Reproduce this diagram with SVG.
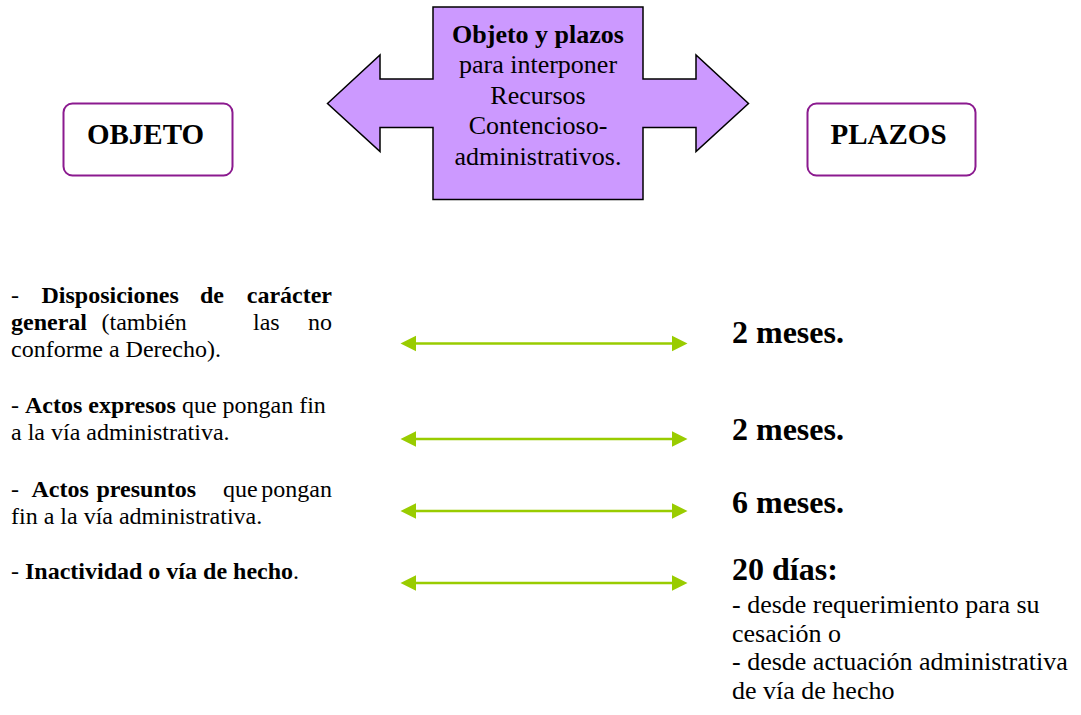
<svg xmlns="http://www.w3.org/2000/svg" width="1081" height="715" viewBox="0 0 1081 715">
<style>
text{font-family:"Liberation Serif","Times New Roman",serif;fill:#000}
.b{font-weight:bold}
.hdr{font-size:29px;font-weight:bold;text-anchor:middle}
.ctr{font-size:26px;text-anchor:middle}
.lt{font-size:24px}
.big{font-size:32px;font-weight:bold}
.sub{font-size:26px}
.box{fill:#fff;stroke:#8B1A8F;stroke-width:2}
.conn line{stroke:#99CC00;stroke-width:2.5}
.conn polygon{fill:#99CC00}
</style>
<rect width="1081" height="715" fill="#fff"/>
<g id="center-arrow">
<polygon points="327.5,103.5 380,55 380,79 433,79 433,7 643,7 643,79 696,79 696,55 748.5,103.5 696,151.5 696,127.5 643,127.5 643,199.5 433,199.5 433,127.5 380,127.5 380,151.5" fill="#CC99FF" stroke="#000" stroke-width="1.5"/>
<text class="ctr b" x="538" y="42.5">Objeto y plazos</text>
<text class="ctr" x="538" y="73">para interponer</text>
<text class="ctr" x="538" y="103.5">Recursos</text>
<text class="ctr" x="538" y="134">Contencioso-</text>
<text class="ctr" x="538" y="164.5">administrativos.</text>
</g>
<g id="objeto">
<rect class="box" x="63.5" y="103.5" width="169" height="72" rx="9"/>
<text class="hdr" x="145.5" y="144">OBJETO</text>
</g>
<g id="plazos">
<rect class="box" x="807.5" y="103.5" width="168" height="72" rx="9"/>
<text class="hdr" x="888.5" y="144">PLAZOS</text>
</g>
<g id="objeto-items" class="lt">
<text class="lt" x="11" y="302.5">-</text>
<text class="lt b" x="41.5" y="302.5">Disposiciones</text>
<text class="lt b" x="200" y="302.5">de</text>
<text class="lt b" x="332" y="302.5" text-anchor="end">carácter</text>
<text class="lt b" x="11" y="329.5">general</text>
<text class="lt" x="101.5" y="329.5">(también</text>
<text class="lt" x="253" y="329.5">las</text>
<text class="lt" x="332" y="329.5" text-anchor="end">no</text>
<text class="lt" x="11" y="356.5">conforme a Derecho).</text>
<text class="lt" x="11" y="412.5">- <tspan class="b">Actos expresos</tspan> que pongan fin</text>
<text class="lt" x="11" y="440">a la vía administrativa.</text>
<text class="lt" x="11" y="496.5">-</text>
<text class="lt b" x="31.5" y="496.5">Actos</text>
<text class="lt b" x="96.5" y="496.5">presuntos</text>
<text class="lt" x="223" y="496.5">que</text>
<text class="lt" x="332" y="496.5" text-anchor="end">pongan</text>
<text class="lt" x="11" y="523.5">fin a la vía administrativa.</text>
<text class="lt" x="11" y="578.5">- <tspan class="b">Inactividad o vía de hecho</tspan>.</text>
</g>
<g id="connectors" class="conn">
<line x1="414" y1="343.5" x2="674" y2="343.5"/>
<polygon points="400.5,343.5 416,335.8 416,351.2"/>
<polygon points="687.5,343.5 672,335.8 672,351.2"/>
<line x1="414" y1="439" x2="674" y2="439"/>
<polygon points="400.5,439 416,431.3 416,446.7"/>
<polygon points="687.5,439 672,431.3 672,446.7"/>
<line x1="414" y1="511" x2="674" y2="511"/>
<polygon points="400.5,511 416,503.3 416,518.7"/>
<polygon points="687.5,511 672,503.3 672,518.7"/>
<line x1="414" y1="583" x2="674" y2="583"/>
<polygon points="400.5,583 416,575.3 416,590.7"/>
<polygon points="687.5,583 672,575.3 672,590.7"/>
</g>
<g id="plazos-items">
<text class="big" x="732" y="342.5">2 meses.</text>
<text class="big" x="732" y="439.5">2 meses.</text>
<text class="big" x="732" y="512.5">6 meses.</text>
<text class="big" x="732" y="579.5">20 días:</text>
<text class="sub" x="732" y="613">- desde requerimiento para su</text>
<text class="sub" x="732" y="641.5">cesación o</text>
<text class="sub" x="732" y="670">- desde actuación administrativa</text>
<text class="sub" x="732" y="698.5">de vía de hecho</text>
</g>
</svg>
